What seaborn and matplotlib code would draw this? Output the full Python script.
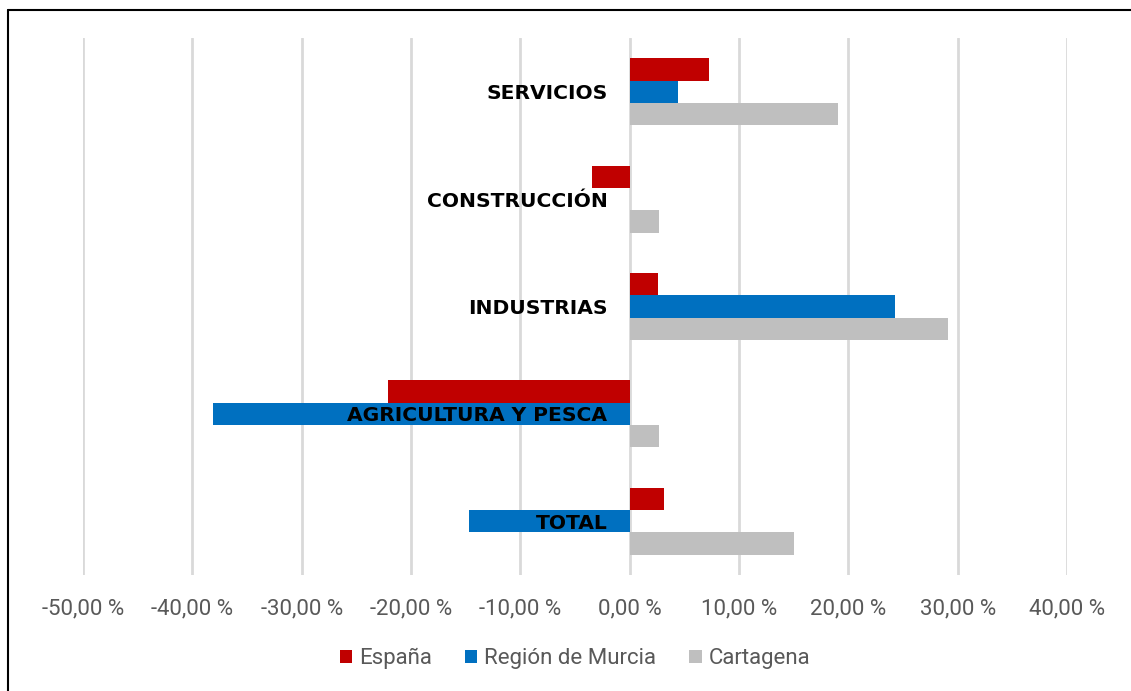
import matplotlib
matplotlib.use("Agg")
import matplotlib.pyplot as plt
import matplotlib.ticker as mticker
from matplotlib.lines import Line2D
import seaborn as sns
import pandas as pd

sns.set_theme(style="white")
plt.rcParams["font.family"] = ["Roboto", "DejaVu Sans"]

# --- DATA ---
sectores = ["SERVICIOS", "CONSTRUCCIÓN", "INDUSTRIAS", "AGRICULTURA Y PESCA", "TOTAL"]
series = ["España", "Región de Murcia", "Cartagena"]
espana = [7.3, -3.4, 2.6, -22.1, 3.1]
murcia = [4.4, 0.0, 24.3, -38.1, -14.7]
cartagena = [19.1, 2.7, 29.1, 2.7, 15.0]
xticks = [-50, -40, -30, -20, -10, 0, 10, 20, 30, 40]

colores = ["#C00000", "#0070C0", "#BFBFBF"]

rows = []
for serie, vals in zip(series, [espana, murcia, cartagena]):
    for s, v in zip(sectores, vals):
        rows.append({"sector": s, "serie": serie, "valor": v})
df = pd.DataFrame(rows)

# --- Plotting ---
fig = plt.figure(figsize=(11.31, 6.91), dpi=100)
ax = fig.add_axes([0.0734, 0.168, 0.87, 0.777])

# vertical gridlines behind the bars
for t in xticks:
    ax.axvline(t, color="#D9D9D9", linewidth=2, zorder=0)

sns.barplot(data=df, x="valor", y="sector", hue="serie", order=sectores,
            hue_order=series, palette=colores, orient="h", width=0.625,
            saturation=1, linewidth=0, ax=ax)

ax.set_xlim(-50, 40)
ax.set_xticks(xticks)
ax.xaxis.set_major_formatter(mticker.FuncFormatter(lambda v, p: f"{v:.2f} %".replace(".", ",")))
ax.grid(False)
ax.set_axisbelow(False)  # tick labels drawn over the bars
ax.set_xlabel("")
ax.set_ylabel("")

for sp in ax.spines.values():
    sp.set_visible(False)
# category labels sit next to the zero line
ax.spines["left"].set_position(("data", 0))
ax.tick_params(axis="y", length=0, pad=16)
ax.tick_params(axis="x", length=0, pad=17, labelsize=16, labelcolor="#595959")
for lbl in ax.get_yticklabels():
    lbl.set_fontweight("bold")
    lbl.set_fontsize(14.6)
    lbl.set_color("black")
    lbl.set_family(["DejaVu Sans"])

leg = ax.legend(loc="center", bbox_to_anchor=(0.5, -0.156), ncol=3, frameon=False,
                handlelength=0.55, handleheight=0.55, handletextpad=0.3,
                columnspacing=1.5, fontsize=16)
for t in leg.get_texts():
    t.set_color("#595959")

# outer frame (left and top edges)
fig.add_artist(Line2D([7.5 / 1131, 7.5 / 1131], [0, 1 - 9.5 / 691], color="black", linewidth=1.5))
fig.add_artist(Line2D([7.5 / 1131, 1], [1 - 9.5 / 691, 1 - 9.5 / 691], color="black", linewidth=1.5))

fig.savefig("out.png", dpi=100)
